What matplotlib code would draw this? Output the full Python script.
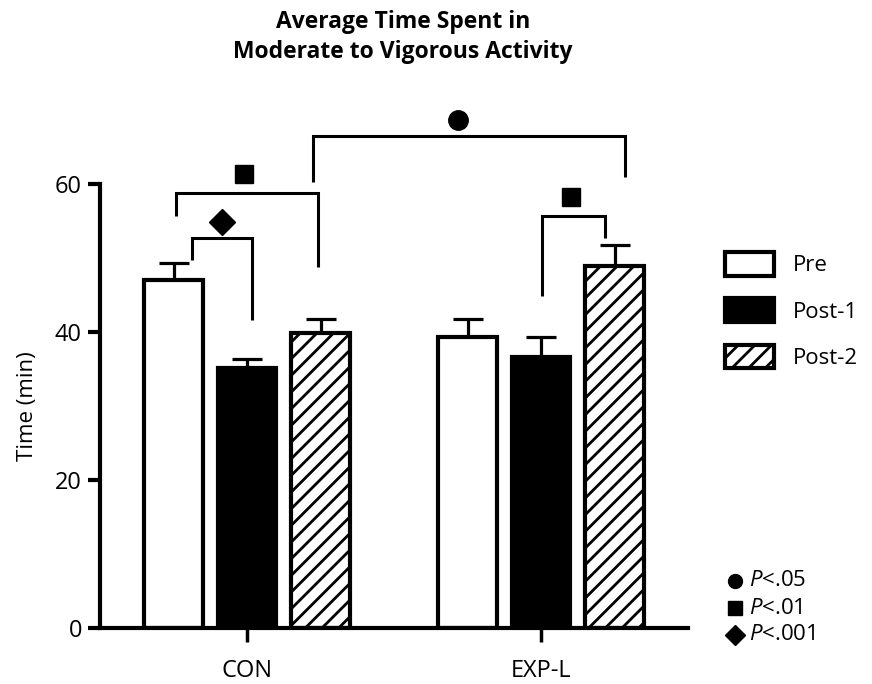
import matplotlib
matplotlib.use("Agg")
import matplotlib.pyplot as plt
import numpy as np

# data
groups = ["CON", "EXP-L"]
series = ["Pre", "Post-1", "Post-2"]
pre_vals = [47.0, 39.3]
post1_vals = [35.1, 36.6]
post2_vals = [39.9, 48.9]
pre_err = [2.3, 2.5]
post1_err = [1.3, 2.7]
post2_err = [1.9, 2.9]

# significance brackets: (x_left, x_right, y_top, y_left_end, y_right_end)
brackets = [
    (-0.188, 0.017, 52.7, 49.7, 41.6),
    (-0.243, 0.243, 58.8, 55.7, 48.8),
    (0.226, 1.285, 66.5, 60.3, 60.9),
    (1.005, 1.217, 55.7, 44.9, 52.7),
]
# significance symbols: (x, y, marker, size)
sig_marks = [
    (-0.085, 54.9, "D", 13),
    (-0.01, 61.4, "s", 13),
    (0.718, 68.6, "o", 14),
    (1.101, 58.2, "s", 13),
]
p_labels = ["<.05", "<.01", "<.001"]
p_markers = ["o", "s", "D"]

plt.rcParams["font.family"] = ["Open Sans", "DejaVu Sans"]
plt.rcParams["mathtext.fontset"] = "custom"
plt.rcParams["mathtext.rm"] = "Open Sans"
plt.rcParams["mathtext.it"] = "Open Sans:italic"
plt.rcParams["hatch.linewidth"] = 2.0
plt.rcParams["hatch.color"] = "black"

fig = plt.figure(figsize=(8.72, 6.84), dpi=100)
ax = fig.add_axes([100 / 872, 1 - 628 / 684, 588 / 872, 444 / 684])

x = np.arange(len(groups))
w = 0.2
off = 0.25
edge = 3.0

b1 = ax.bar(x - off, pre_vals, w, color="white", edgecolor="black", linewidth=edge, label="Pre", zorder=2)
b2 = ax.bar(x, post1_vals, w, color="black", edgecolor="black", linewidth=edge, label="Post-1", zorder=2)
b3 = ax.bar(x + off, post2_vals, w, color="white", edgecolor="black", linewidth=edge,
            hatch="//", label="Post-2", zorder=2)

for xs, vals, errs in [(x - off, pre_vals, pre_err), (x, post1_vals, post1_err), (x + off, post2_vals, post2_err)]:
    ax.errorbar(xs, vals, yerr=[np.zeros(len(errs)), errs], fmt="none", ecolor="black",
                elinewidth=2.3, capsize=11, capthick=2.3, zorder=1)

for xl, xr, yt, yl, yr in brackets:
    ax.plot([xl, xl, xr, xr], [yl, yt, yt, yr], color="black", lw=2.2,
            clip_on=False, solid_capstyle="butt", solid_joinstyle="miter")

for mx, my, mk, ms in sig_marks:
    ax.plot([mx], [my], marker=mk, color="black", markersize=ms, clip_on=False)

ax.set_xlim(-0.5, 1.5)
ax.set_ylim(0, 60)
ax.set_yticks([0, 20, 40, 60])
ax.set_xticks(x)
ax.set_xticklabels(groups)
ax.spines["top"].set_visible(False)
ax.spines["right"].set_visible(False)
ax.spines["left"].set_linewidth(3)
ax.spines["bottom"].set_linewidth(3)
ax.spines["left"].set_bounds(0, 60)
ax.tick_params(axis="y", length=9, width=3, labelsize=17, pad=4)
ax.tick_params(axis="x", length=10, width=2.5, labelsize=17, pad=12)
ax.set_ylabel("Time (min)", fontsize=16, labelpad=12)

fig.text(403 / 872, 1 - 37 / 684, "Average Time Spent in\nModerate to Vigorous Activity",
         ha="center", va="center", fontsize=16.5, fontweight="bold", linespacing=1.3)

leg = ax.legend(handles=[b1, b2, b3], loc="upper left", bbox_to_anchor=(725 / 872, 1 - 252 / 684),
                bbox_transform=fig.transFigure, frameon=False, fontsize=16, borderpad=0,
                borderaxespad=0, handlelength=2.2, handleheight=1.25, labelspacing=1.0,
                handletextpad=0.85)

for i, (lab, mk) in enumerate(zip(p_labels, p_markers)):
    yy = 1 - (581 + i * 27) / 684
    fig.lines.append(plt.Line2D([735 / 872], [yy], marker=mk, color="black",
                                markersize=10, transform=fig.transFigure))
    fig.text(749 / 872, yy, r"$\mathit{P}$" + lab, ha="left", va="center", fontsize=16)

fig.savefig("out.png", dpi=100)
